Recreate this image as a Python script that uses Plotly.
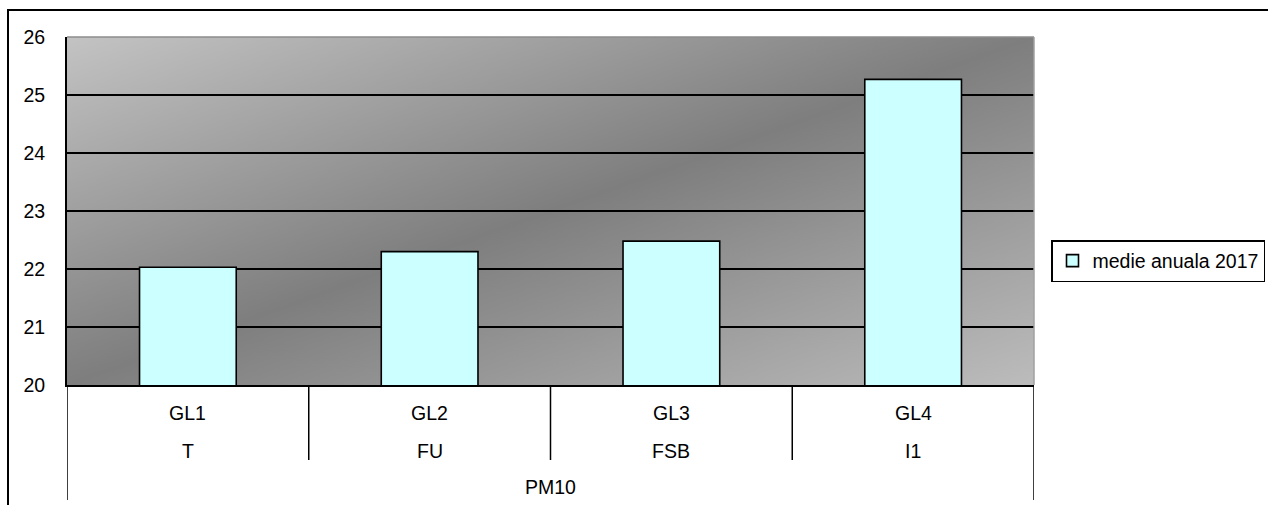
import base64
import plotly.graph_objects as go

# ---- data -------------------------------------------------------------
stations = ["GL1", "GL2", "GL3", "GL4"]
site_types = ["T", "FU", "FSB", "I1"]
pollutant = "PM10"
annual_mean_2017 = [22.03, 22.30, 22.48, 25.27]
series_name = "medie anuala 2017"
y_ticks = [20, 21, 22, 23, 24, 25, 26]

# ---- geometry / style --------------------------------------------------
W, H = 1268, 505
ML, MR, MT, MB = 67, 234, 37, 120
PW, PH = W - ML - MR, H - MT - MB
FONT = "Liberation Sans, Arial, sans-serif"
FS = 19.5


def px_x(p):
    """pixel column -> paper x"""
    return (p - ML) / PW


def px_y(p):
    """pixel row -> paper y"""
    return (H - MB - p) / PH


# diagonal grey gradient used as plot-area background
svg = (
    '<svg xmlns="http://www.w3.org/2000/svg" width="100" height="100" '
    'viewBox="0 0 100 100" preserveAspectRatio="none">'
    '<defs><linearGradient id="g" x1="0" y1="0" x2="1" y2="1">'
    '<stop offset="0" stop-color="#c3c3c3"/>'
    '<stop offset="0.5" stop-color="#7e7e7e"/>'
    '<stop offset="1" stop-color="#bcbcbc"/>'
    '</linearGradient></defs>'
    '<rect width="100" height="100" fill="url(#g)"/></svg>'
)
bg_uri = "data:image/svg+xml;base64," + base64.b64encode(svg.encode()).decode()

fig = go.Figure()
fig.add_trace(
    go.Bar(
        x=stations,
        y=annual_mean_2017,
        width=0.4,
        name=series_name,
        showlegend=True,
        marker=dict(color="#ccffff", line=dict(color="black", width=1.6)),
        hoverinfo="x+y",
    )
)

shapes = []
# outer chart frame
shapes.append(dict(type="rect", xref="paper", yref="paper",
                   x0=px_x(8), y0=px_y(10), x1=px_x(1300), y1=px_y(540),
                   line=dict(color="black", width=2), layer="below"))
# grey top / right edge of plot area
shapes.append(dict(type="line", xref="paper", yref="paper", x0=0, x1=1, y0=1, y1=1,
                   line=dict(color="#8c8c8c", width=1.5), layer="above"))
shapes.append(dict(type="line", xref="paper", yref="paper", x0=1, x1=1, y0=0, y1=1,
                   line=dict(color="#a0a0a0", width=1.5), layer="above"))
# category separators below the axis
n = len(stations)
for i in range(n + 1):
    outer = i in (0, n)
    shapes.append(dict(type="line", xref="x", yref="paper",
                       x0=i - 0.5, x1=i - 0.5, y0=0,
                       y1=px_y(500) if outer else px_y(460),
                       line=dict(color="black", width=1.5)))

annotations = []
for i, (st, tp) in enumerate(zip(stations, site_types)):
    annotations.append(dict(x=st, y=px_y(413), xref="x", yref="paper", text=st,
                            showarrow=False, yanchor="middle",
                            font=dict(family=FONT, size=FS, color="black")))
    annotations.append(dict(x=st, y=px_y(451), xref="x", yref="paper", text=tp,
                            showarrow=False, yanchor="middle",
                            font=dict(family=FONT, size=FS, color="black")))
annotations.append(dict(x=(n - 1) / 2, y=px_y(487), xref="x", yref="paper",
                        text=pollutant, showarrow=False, yanchor="middle",
                        font=dict(family=FONT, size=FS, color="black")))

fig.update_layout(
    width=W, height=H,
    margin=dict(l=ML, r=MR, t=MT, b=MB, pad=0, autoexpand=False),
    paper_bgcolor="white",
    plot_bgcolor="rgba(0,0,0,0)",
    font=dict(family=FONT, size=FS, color="black"),
    bargap=0.6,
    images=[dict(source=bg_uri, xref="paper", yref="paper", x=0, y=1,
                 sizex=1, sizey=1, sizing="stretch", layer="below",
                 xanchor="left", yanchor="top")],
    xaxis=dict(type="category", range=[-0.5, n - 0.5], showticklabels=False,
               showgrid=False, showline=True, linecolor="black", linewidth=2,
               ticks="", zeroline=False, fixedrange=True),
    yaxis=dict(range=[y_ticks[0], y_ticks[-1]], tickvals=y_ticks, showgrid=True,
               gridcolor="black", gridwidth=1.5, showline=True, linecolor="black",
               linewidth=2, ticks="", ticklabelstandoff=16, zeroline=False,
               tickfont=dict(family=FONT, size=FS, color="black"), fixedrange=True),
    legend=dict(x=px_x(1051), xanchor="left", y=px_y(261), yanchor="middle",
                bordercolor="black", borderwidth=1.5, bgcolor="white",
                font=dict(family=FONT, size=FS, color="black")),
    shapes=shapes,
    annotations=annotations,
)

fig.write_html("out.html")
